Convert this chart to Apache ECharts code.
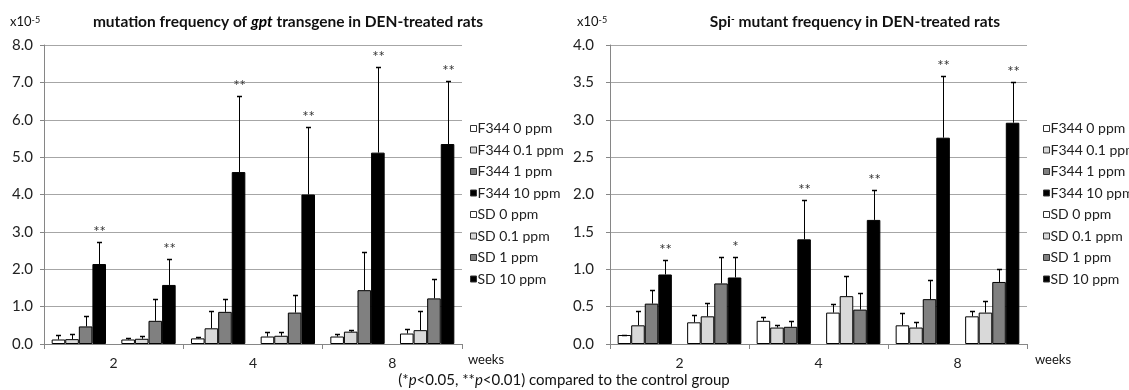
<!DOCTYPE html>
<html>
<head>
<meta charset="utf-8">
<script src="https://cdn.jsdelivr.net/npm/echarts@6/dist/echarts.min.js"></script>
<style>html,body{margin:0;padding:0;background:#fff}#c{width:1129px;height:390px}</style>
</head>
<body>
<div id="c"></div>
<script>
// ---- data ----
const groups = ['2-F344', '2-SD', '4-F344', '4-SD', '8-F344', '8-SD'];
const weekLabels = ['2', '4', '8'];
const strains = ['F344', 'SD'];
const doses = ['0 ppm', '0.1 ppm', '1 ppm', '10 ppm'];
const gptTicks = [0, 8, 1];
const spiTicks = [0, 4, 0.5];

// gpt mutation frequency (x10^-5), order follows groups
const gptMean0  = [0.12, 0.12, 0.15, 0.20, 0.20, 0.28];
const gptMean01 = [0.13, 0.14, 0.42, 0.22, 0.33, 0.37];
const gptMean1  = [0.47, 0.62, 0.86, 0.84, 1.44, 1.22];
const gptMean10 = [2.14, 1.58, 4.60, 4.00, 5.12, 5.35];
const gptSD0    = [0.11, 0.05, 0.04, 0.13, 0.08, 0.11];
const gptSD01   = [0.14, 0.07, 0.45, 0.09, 0.05, 0.50];
const gptSD1    = [0.29, 0.59, 0.35, 0.48, 1.01, 0.51];
const gptSD10   = [0.59, 0.70, 2.03, 1.81, 2.28, 1.70];
const gptSig10  = ['**', '**', '**', '**', '**', '**'];

// Spi- mutant frequency (x10^-5)
const spiMean0  = [0.12, 0.29, 0.31, 0.42, 0.25, 0.37];
const spiMean01 = [0.25, 0.37, 0.22, 0.64, 0.22, 0.42];
const spiMean1  = [0.54, 0.81, 0.23, 0.46, 0.60, 0.83];
const spiMean10 = [0.93, 0.89, 1.40, 1.66, 2.76, 2.96];
const spiSD0    = [0.00, 0.10, 0.05, 0.12, 0.17, 0.07];
const spiSD01   = [0.19, 0.18, 0.03, 0.27, 0.08, 0.16];
const spiSD1    = [0.18, 0.36, 0.08, 0.22, 0.26, 0.18];
const spiSD10   = [0.19, 0.28, 0.52, 0.40, 0.82, 0.55];
const spiSig10  = ['**', '*', '**', '**', '**', '**'];

// ---- build ----
const FONT = 'Lato, "Open Sans", sans-serif';
const colors = ['#ffffff', '#d9d9d9', '#808080', '#000000'];
const GAP = 0.22;

const gptMeans = [gptMean0, gptMean01, gptMean1, gptMean10];
const gptSDs = [gptSD0, gptSD01, gptSD1, gptSD10];
const spiMeans = [spiMean0, spiMean01, spiMean1, spiMean10];
const spiSDs = [spiSD0, spiSD01, spiSD1, spiSD10];

const legendNames = [];
strains.forEach(s => doses.forEach(d => legendNames.push(s + ' ' + d)));

function barSeries(means, axisIdx) {
  const out = [];
  strains.forEach((s, si) => {
    doses.forEach((d, di) => {
      out.push({
        type: 'bar', name: s + ' ' + d,
        xAxisIndex: axisIdx * 2, yAxisIndex: axisIdx,
        stack: 'c' + axisIdx + '_' + di,
        barCategoryGap: (GAP * 100) + '%', barGap: '0%',
        itemStyle: { color: colors[di], borderColor: '#000', borderWidth: 1 },
        emphasis: { disabled: true },
        animation: false,
        data: means[di].map((v, gi) => (gi % 2 === si ? v : null))
      });
    });
  });
  return out;
}

function errSeries(means, sds, sig10, axisIdx) {
  const data = [];
  const sigs = [];
  for (let di = 0; di < 4; di++) {
    for (let gi = 0; gi < groups.length; gi++) {
      data.push([gi, means[di][gi] + sds[di][gi], means[di][gi], di]);
      sigs.push(di === 3 ? sig10[gi] : '');
    }
  }
  return {
    type: 'custom', xAxisIndex: axisIdx * 2, yAxisIndex: axisIdx,
    silent: true, animation: false, z: 5,
    data: data,
    renderItem: function (params, api) {
      const cat = api.value(0), top = api.value(1), mean = api.value(2), slot = api.value(3);
      const band = api.size([1, 0])[0];
      const used = band * (1 - GAP);
      const bw = used / 4;
      const pTop = api.coord([cat, top]);
      const pBase = api.coord([cat, mean]);
      const x = Math.round(pTop[0] - used / 2 + (slot + 0.5) * bw) + 0.5;
      const yT = Math.round(pTop[1]) + 0.5;
      const children = [
        { type: 'line', shape: { x1: x, y1: pBase[1], x2: x, y2: yT }, style: { stroke: '#000', lineWidth: 1 } },
        { type: 'line', shape: { x1: x - 2.5, y1: yT, x2: x + 2.5, y2: yT }, style: { stroke: '#000', lineWidth: 1.5 } }
      ];
      const s = sigs[params.dataIndex];
      if (s) {
        children.push({ type: 'text', style: { text: s, x: x, y: yT - 3, align: 'center', verticalAlign: 'bottom', fontSize: 15, fontFamily: FONT, fill: '#333' } });
      }
      return { type: 'group', children: children };
    }
  };
}

const grids = [
  { left: 44, width: 418, top: 45, bottom: 46 },
  { left: 610, width: 417, top: 45, bottom: 46 }
];
const labelMargins = [11, 16];

const xAxes = [];
const yAxes = [];
[gptTicks, spiTicks].forEach((t, i) => {
  xAxes.push({
    type: 'category', gridIndex: i, data: groups, show: false, boundaryGap: true
  });
  xAxes.push({
    type: 'category', gridIndex: i, data: weekLabels, position: 'bottom', boundaryGap: true,
    axisLine: { show: true, lineStyle: { color: '#868686', width: 1 } },
    axisTick: { show: true, alignWithLabel: false, length: 5, lineStyle: { color: '#868686' } },
    axisLabel: { fontSize: 14, fontFamily: FONT, color: '#222', margin: 12 },
    splitLine: { show: false }
  });
  yAxes.push({
    type: 'value', gridIndex: i, min: t[0], max: t[1], interval: t[2],
    axisLine: { show: true, lineStyle: { color: '#868686', width: 1 } },
    axisTick: { show: true, length: 4, lineStyle: { color: '#868686' } },
    axisLabel: { fontSize: 15, fontFamily: FONT, color: '#222', margin: labelMargins[i], formatter: v => v.toFixed(1) },
    splitLine: { show: true, lineStyle: { color: '#a6a6a6', width: 1 } }
  });
});

function legendAt(left) {
  return {
    data: legendNames, orient: 'vertical', left: left, top: 120.5, padding: 0,
    itemWidth: 6, itemHeight: 6, itemGap: 5.5, icon: 'rect',
    selectedMode: false,
    itemStyle: { borderColor: '#333', borderWidth: 1 },
    textStyle: { fontSize: 14, fontFamily: FONT, color: '#222', lineHeight: 16, padding: [0, 0, 0, -4] }
  };
}

const rich = {
  i: { fontStyle: 'italic', fontSize: 15.5, fontWeight: 'bold', fontFamily: FONT, fill: '#000' },
  sup: { fontSize: 10, verticalAlign: 'top', fontWeight: 'bold', fontFamily: FONT },
  sup2: { fontSize: 9, verticalAlign: 'top', fontFamily: FONT },
  ip: { fontStyle: 'italic', fontSize: 15, fontFamily: FONT }
};

function txt(text, x, y, opts) {
  return {
    type: 'text', silent: true,
    style: Object.assign({ text: text, x: x, y: y, align: 'left', verticalAlign: 'middle', fontSize: 14, fontFamily: FONT, fill: '#111', rich: rich }, opts || {})
  };
}

const option = {
  animation: false,
  grid: grids,
  xAxis: xAxes,
  yAxis: yAxes,
  legend: [legendAt(1043 - 573), legendAt(1043)],
  series: [].concat(
    barSeries(gptMeans, 0), [errSeries(gptMeans, gptSDs, gptSig10, 0)],
    barSeries(spiMeans, 1), [errSeries(spiMeans, spiSDs, spiSig10, 1)]
  ),
  graphic: [
    txt('mutation frequency of {i|gpt} transgene in DEN-treated rats', 288, 22, { align: 'center', fontWeight: 'bold', fontSize: 15.5 }),
    txt('Spi{sup|-} mutant frequency in DEN-treated rats', 855, 22, { align: 'center', fontWeight: 'bold', fontSize: 15.5 }),
    txt('x10{sup2|-5}', 10, 22, { fontSize: 13 }),
    txt('x10{sup2|-5}', 577, 22, { fontSize: 13 }),
    txt('weeks', 468, 360, { fontSize: 13 }),
    txt('weeks', 1035, 360, { fontSize: 13 }),
    txt('(*{ip|p}<0.05, **{ip|p}<0.01) compared to the control group', 564, 380, { align: 'center', fontSize: 15 })
  ]
};

const chart = echarts.init(document.getElementById('c'), null, { renderer: 'canvas' });
chart.setOption(option);
</script>
</body>
</html>
